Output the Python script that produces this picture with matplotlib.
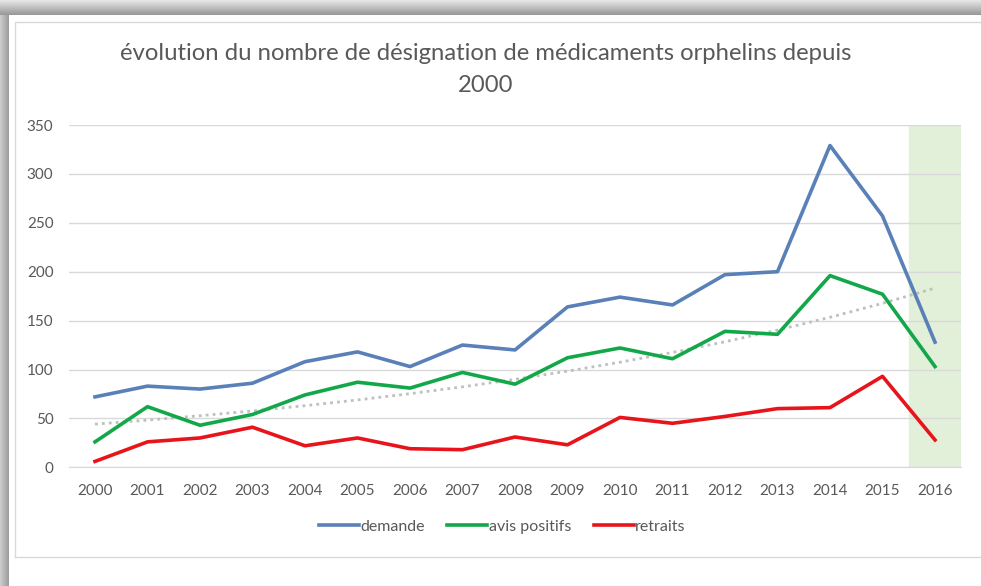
import numpy as np
import matplotlib
matplotlib.use('Agg')
import matplotlib.pyplot as plt

# data
years = list(range(2000, 2017))
demande = [72, 83, 80, 86, 108, 118, 103, 125, 120, 164, 174, 166, 197, 200, 329, 257, 128]
avis_positifs = [26, 62, 43, 54, 74, 87, 81, 97, 85, 112, 122, 111, 139, 136, 196, 177, 103]
retraits = [6, 26, 30, 41, 22, 30, 19, 18, 31, 23, 51, 45, 52, 60, 61, 93, 28]
highlight_year = 2016

plt.rcParams['font.family'] = ['Lato', 'DejaVu Sans']

W, H = 981, 586
fig = plt.figure(figsize=(W / 100, H / 100), dpi=100)

# background: screenshot shadow on top and left
bg = fig.add_axes([0, 0, 1, 1])
img = np.ones((H, W, 3))
top = np.linspace(0.90, 0.60, 15)
for i, v in enumerate(top):
    img[i, :, :] = v
left = np.linspace(0.80, 0.62, 9)
for j, v in enumerate(left):
    img[15:, j, :] = np.minimum(img[15:, j, :], v)
bg.imshow(img, extent=[0, W, H, 0], aspect='auto')
bg.plot([15, 15, W], [H - 29, 22, 22], color='#d9d9d9', lw=1)
bg.plot([15, W], [H - 29, H - 29], color='#d9d9d9', lw=1)
bg.set_xlim(0, W)
bg.set_ylim(H, 0)
bg.axis('off')

ax = fig.add_axes([68.75 / W, 1 - 467.3 / H, (961.25 - 68.75) / W, (467.3 - 125) / H])
ax.set_facecolor('none')

ax.axvspan(highlight_year - 0.5, highlight_year + 0.5, color='#e2efd9', zorder=0)

# exponential trend of avis positifs (as in the spreadsheet)
b, a = np.polyfit(np.array(years) - years[0], np.log(avis_positifs), 1)
trend = np.exp(a + b * (np.array(years) - years[0]))
ax.plot(years, trend, color='#bfbfbf', lw=2, ls=(0, (1, 1.5)), zorder=2)

ax.plot(years, demande, color='#5a80b8', lw=2.6, label='demande', zorder=3)
ax.plot(years, avis_positifs, color='#12a84a', lw=2.6, label='avis positifs', zorder=3)
ax.plot(years, retraits, color='#e8141b', lw=2.6, label='retraits', zorder=3)

ax.set_xlim(years[0] - 0.5, years[-1] + 0.5)
ax.set_ylim(0, 350)
ax.set_yticks(range(0, 351, 50))
ax.set_xticks(years)
ax.grid(axis='y', color='#d9d9d9', lw=1)
ax.set_axisbelow(True)
for s in ['top', 'right', 'left']:
    ax.spines[s].set_visible(False)
ax.spines['bottom'].set_color('#d9d9d9')
ax.tick_params(length=0, colors='#595959', labelsize=11)
ax.tick_params(axis='y', pad=11)
ax.tick_params(axis='x', pad=12)

fig.text(0.4955, 1 - 53 / H, 'évolution du nombre de désignation de médicaments orphelins depuis',
         ha='center', va='center', fontsize=17.2, color='#595959')
fig.text(0.4955, 1 - 85 / H, '2000', ha='center', va='center', fontsize=17.2, color='#595959')

leg = fig.legend(loc='center', bbox_to_anchor=(0.512, 1 - 527 / H), ncol=3, frameon=False,
                 handlelength=2.5, handletextpad=0.1, columnspacing=1.4, fontsize=11.5)
for t in leg.get_texts():
    t.set_color('#595959')

fig.savefig('out.png', dpi=100)
